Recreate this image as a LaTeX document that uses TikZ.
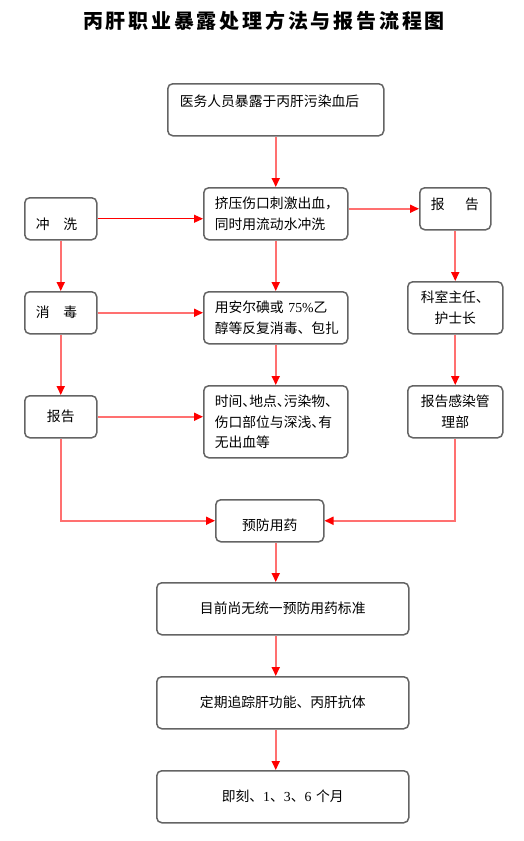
\documentclass[tikz,border=0pt]{standalone}
\usepackage{fontspec}
\usepackage{tikz}
\usetikzlibrary{arrows.meta}
\setmainfont{Noto Sans CJK SC}
\newfontfamily\latinnum{Liberation Serif}
\newfontfamily\titlefont[LetterSpace=14]{Noto Sans CJK SC}
\definecolor{linkred}{RGB}{255,112,112}
\definecolor{boxgray}{RGB}{100,100,100}
\newcommand{\hdun}{、\kern-0.5em}
\tikzset{
	box/.style={draw=boxgray, line width=1.5pt, rounded corners=5pt, anchor=north west,
		inner xsep=11pt, inner ysep=0pt, font=\fontsize{13.8}{20.5}\selectfont},
	flow/.style={draw=linkred, line width=1.7pt, -{Triangle[length=9pt,width=8pt,color=red]}},
	flowred/.style={draw=red, line width=1.1pt, -{Triangle[length=9pt,width=8pt,color=red]}}
}
\begin{document}
\begin{tikzpicture}[x=1pt,y=-1pt]
	\fill[white] (0,0) rectangle (524,841);
	\useasboundingbox (0,0) rectangle (524,841);
	\node[font=\titlefont\bfseries\fontsize{20}{24}\selectfont] (title) at (264,21) {丙肝职业暴露处理方法与报告流程图};

	\node[box, text width=192pt, minimum height=52pt, inner xsep=12pt, align=left, text height=11pt, text depth=16.7pt] (expose) at (167,83) {医务人员暴露于丙肝污染血后};
	\node[box, text width=122pt, minimum height=52pt, align=left] (wound) at (203,187) {挤压伤口刺激出血，\\同时用流动水冲洗};
	\node[box, text width=50pt, minimum height=42pt, align=left, text height=23pt, text depth=0.7pt] (rinse) at (24,197) {冲\hspace{1em}洗};
	\node[box, text width=49pt, minimum height=42pt, align=left, text height=11pt, text depth=8.7pt] (reportR) at (419,187) {报\hspace{1.5em}告};
	\node[box, text width=50pt, minimum height=42pt, align=left, text height=11pt, text depth=0.7pt] (disinfect) at (24,291) {消\hspace{1em}毒};
	\node[box, text width=122pt, minimum height=52pt, align=left] (iodine) at (203,291) {用安尔碘或 {\latinnum 75\%}乙\\醇等反复消毒、包扎};
	\node[box, text width=73pt, minimum height=52pt, align=center] (chief) at (407,281) {科室主任、\\护士长};
	\node[box, text width=50pt, minimum height=42pt, align=center, text height=11pt, text depth=0.7pt] (reportL) at (24,395) {报告};
	\node[box, text width=122pt, minimum height=72pt, align=left] (details) at (203,385) {时间\hdun 地点\hdun 污染物\hdun\\伤口部位与深浅\hdun 有\\无出血等};
	\node[box, text width=73pt, minimum height=52pt, align=center] (infection) at (407,385) {报告感染管\\理部};
	\node[box, text width=86pt, minimum height=42pt, align=center, text height=21pt, text depth=0.7pt] (prevent) at (215,499) {预防用药};
	\node[box, text width=230pt, minimum height=52pt, align=center, text height=11pt, text depth=0.7pt] (standard) at (156,582) {目前尚无统一预防用药标准};
	\node[box, text width=230pt, minimum height=52pt, align=center, text height=11pt, text depth=0.7pt] (followup) at (156,676) {定期追踪肝功能、丙肝抗体};
	\node[box, text width=230pt, minimum height=52pt, align=center, text height=11pt, text depth=0.7pt] (timing) at (156,770) {即刻、{\latinnum 1}、{\latinnum 3}、{\latinnum 6} 个月};

	\draw[flow] (expose.south) -- (wound.north);
	\draw[flowred] (rinse.east) -- (rinse.east -| wound.west);
	\draw[flow] (wound.east |- reportR.west) -- (reportR.west);
	\draw[flow] (rinse.south) -- (disinfect.north);
	\draw[flow] (wound.south) -- (iodine.north);
	\draw[flow] (reportR.south) -- (chief.north);
	\draw[flow] (disinfect.east) -- (disinfect.east -| iodine.west);
	\draw[flow] (disinfect.south) -- (reportL.north);
	\draw[flow] (iodine.south) -- (details.north);
	\draw[flow] (chief.south) -- (infection.north);
	\draw[flow] (reportL.east) -- (reportL.east -| details.west);
	\draw[flow] (reportL.south) |- (prevent.west);
	\draw[flow] (infection.south) |- (prevent.east);
	\draw[flow] (prevent.south -| expose.south) -- (standard.north -| expose.south);
	\draw[flow] (standard.south -| expose.south) -- (followup.north -| expose.south);
	\draw[flow] (followup.south -| expose.south) -- (timing.north -| expose.south);
\end{tikzpicture}
\end{document}
